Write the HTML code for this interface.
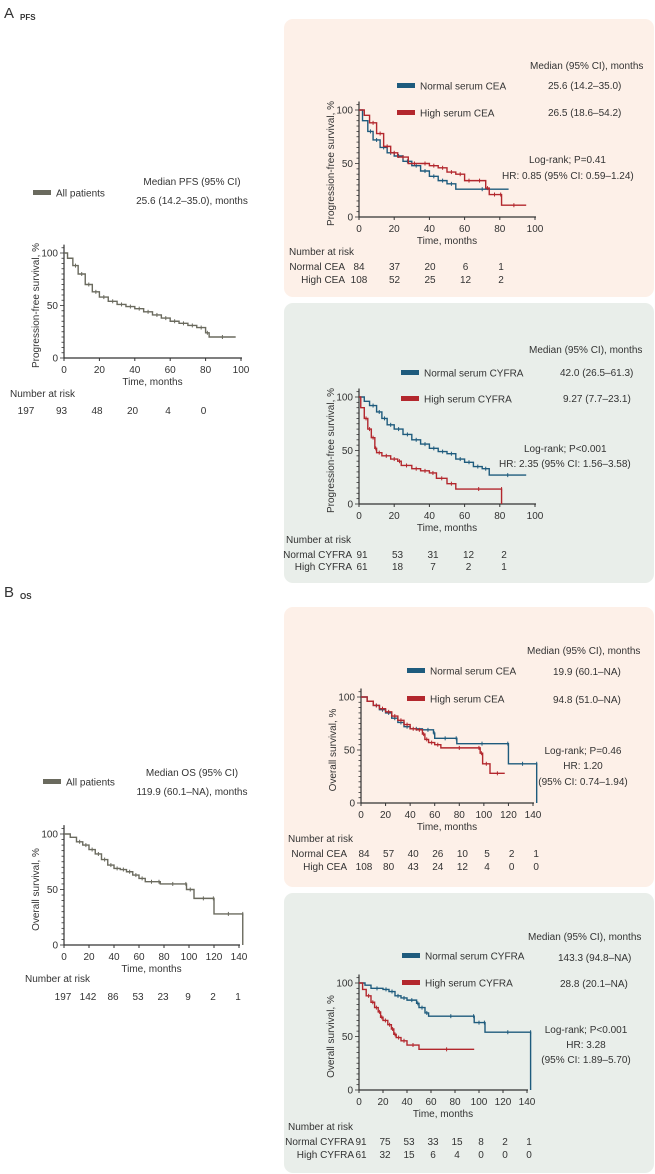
<!DOCTYPE html>
<html><head><meta charset="utf-8">
<style>
html,body{margin:0;padding:0;background:#fff;}
svg{display:block;font-family:"Liberation Sans",Arial,sans-serif;}
text{fill:#333;}
</style></head>
<body>
<svg id="root" width="655" height="1174" viewBox="0 0 655 1174" xmlns="http://www.w3.org/2000/svg">
<rect x="284" y="19" width="370" height="278" rx="9" fill="#fdf0e8"/>
<rect x="284" y="303" width="370" height="280" rx="9" fill="#e9eeea"/>
<rect x="284" y="607" width="370" height="280" rx="9" fill="#fdf0e8"/>
<rect x="284" y="893" width="370" height="280" rx="9" fill="#e9eeea"/>
<g><text x="4" y="18" font-size="15" fill="#222">A</text><text x="20" y="20" font-size="8" font-weight="bold" fill="#222">PFS</text></g>
<g><text x="4" y="597" font-size="15" fill="#222">B</text><text x="20" y="599" font-size="8" font-weight="bold" fill="#222">OS</text></g>
<g id="charts"></g>
</svg>
<script>
// ---- data ----
const pfsAllT=[0,2,5,8,12,16,20,25,30,35,40,45,50,55,60,65,70,75,80,82,97];
const pfsAllS=[100,95,88,80,70,63,58,54,51,49,47,44,41,38,35,33,31,29,24,20,20];
const pfsCeaNT=[0,2,5,8,12,16,20,25,30,35,40,45,50,55,85];
const pfsCeaNS=[100,90,80,72,65,60,57,52,48,43,38,34,31,26,26];
const pfsCeaHT=[0,3,6,10,14,18,22,28,35,40,45,50,55,60,65,72,74,80,81,95];
const pfsCeaHS=[100,95,88,78,66,60,56,50,50,48,46,42,40,34,34,27,21,21,11,11];
const pfsCyN_T=[0,3,6,10,13,16,20,25,30,35,40,45,50,55,60,65,70,74,95];
const pfsCyN_S=[100,96,92,86,80,74,70,65,60,56,52,49,47,42,39,35,33,27,27];
const pfsCyH_T=[0,1,3,5,7,9,10,13,18,22,24,30,35,40,44,50,55,81,81];
const pfsCyH_S=[100,90,80,70,62,52,48,45,42,40,36,33,31,29,24,19,14,14,0];
const osAllT=[0,5,10,15,20,25,30,35,40,45,50,55,60,65,75,77,97,98,104,119,120,143,143];
const osAllS=[100,97,93,90,86,82,77,72,69,68,66,63,60,57,57,55,55,50,42,42,28,28,0];
const osCeaNT=[0,5,10,15,20,25,30,35,40,50,59,60,77,78,119,120,143,143];
const osCeaNS=[100,96,92,88,85,80,76,72,70,69,66,61,61,56,56,37,37,0];
const osCeaHT=[0,5,10,15,20,25,30,35,40,45,50,52,55,60,65,95,97,99,105,117];
const osCeaHS=[100,96,92,89,86,82,78,74,70,69,65,60,57,55,52,52,47,37,28,28];
const osCyN_T=[0,5,10,20,25,30,35,40,48,50,55,58,95,96,104,105,143,143];
const osCyN_S=[100,98,95,94,92,88,86,84,81,77,72,69,69,63,63,54,54,0];
const osCyH_T=[0,3,6,10,13,16,18,20,24,27,29,31,35,40,50,96];
const osCyH_S=[100,94,88,82,77,73,68,65,61,57,52,49,46,42,38,38];
const pfsTicks=[0,20,40,60,80,100];
const osTicks=[0,20,40,60,80,100,120,140];
const yTicks=[0,50,100];

const NS="http://www.w3.org/2000/svg";
const FS=10;
const root=document.getElementById('charts');
function el(tag,attrs,parent){const e=document.createElementNS(NS,tag);for(const k in attrs)e.setAttribute(k,attrs[k]);(parent||root).appendChild(e);return e;}
function txt(x,y,s,size,anchor,parent){const t=el('text',{x:x,y:y,'font-size':size||FS,'text-anchor':anchor||'start'},parent);t.textContent=s;return t;}

function chart(cfg){
  const g=el('g',{});
  
  
  const sx=v=>cfg.x0+(v/cfg.xmax)*(cfg.x1-cfg.x0);
  const sy=v=>cfg.y0+(v/100)*(cfg.y100-cfg.y0);
  const ax=el('path',{d:`M${cfg.x0} ${sy(108)}V${cfg.y0}H${sx(cfg.xmax)+1}`,stroke:'#333','stroke-width':1.2,fill:'none'},g);
  
  
  for(let v=0;v<=105;v+=5){el('line',{x1:cfg.x0-(v%50===0?4:2.5),x2:cfg.x0,y1:sy(v),y2:sy(v),stroke:'#333','stroke-width':0.8},g);}
  yTicks.forEach(v=>{const t=txt(cfg.x0-6,sy(v)+3.5,String(v),FS,'end',g);});
  cfg.ticks.forEach(v=>{el('line',{x1:sx(v),x2:sx(v),y1:cfg.y0,y2:cfg.y0+3,stroke:'#333'},g);const t=txt(sx(v),cfg.y0+15,String(v),FS,'middle',g);});
  const xt=txt((cfg.x0+sx(cfg.xmax))/2,cfg.y0+27,'Time, months',FS,'middle',g);
  
  const yt=txt(0,0,cfg.ytitle,FS,'middle',g);
  yt.setAttribute('transform',`translate(${cfg.x0-25},${(cfg.y0+cfg.y100)/2}) rotate(-90)`);
  
  cfg.series.forEach(s=>{
    let d=`M${sx(s.t[0])} ${sy(s.s[0])}`;
    for(let i=1;i<s.t.length;i++){d+=`H${sx(s.t[i])}V${sy(s.s[i])}`;}
    const p=el('path',{d:d,stroke:s.c,'stroke-width':1.4,fill:'none'},g);
    
    
    for(let i=2;i<s.t.length-1;i+=1){const x=(sx(s.t[i])+sx(s.t[i+1]))/2,y=sy(s.s[i]);el('line',{x1:x,x2:x,y1:y-2,y2:y+2,stroke:s.c,'stroke-width':1},g);}
  });
  return g;
}
const BL='#1e5b7d',RD='#b3272d',GR='#6a6a5e';
chart({name:'pfs-all-chart',x0:64,x1:241,y0:358,y100:253,xmax:100,ticks:pfsTicks,ytitle:'Progression-free survival, %',series:[{t:pfsAllT,s:pfsAllS,c:GR,name:'curve-all-patients'}]});
chart({name:'pfs-cea-chart',x0:359,x1:535,y0:217,y100:110,xmax:100,ticks:pfsTicks,ytitle:'Progression-free survival, %',series:[{t:pfsCeaNT,s:pfsCeaNS,c:BL,name:'curve-normal-cea'},{t:pfsCeaHT,s:pfsCeaHS,c:RD,name:'curve-high-cea'}]});
chart({name:'pfs-cyfra-chart',x0:359,x1:535,y0:504,y100:397,xmax:100,ticks:pfsTicks,ytitle:'Progression-free survival, %',series:[{t:pfsCyN_T,s:pfsCyN_S,c:BL,name:'curve-normal-cyfra'},{t:pfsCyH_T,s:pfsCyH_S,c:RD,name:'curve-high-cyfra'}]});
chart({name:'os-all-chart',x0:64,x1:239,y0:945,y100:834,xmax:140,ticks:osTicks,ytitle:'Overall survival, %',series:[{t:osAllT,s:osAllS,c:GR,name:'curve-all-patients-os'}]});
chart({name:'os-cea-chart',x0:361,x1:533,y0:803,y100:697,xmax:140,ticks:osTicks,ytitle:'Overall survival, %',series:[{t:osCeaNT,s:osCeaNS,c:BL,name:'curve-normal-cea-os'},{t:osCeaHT,s:osCeaHS,c:RD,name:'curve-high-cea-os'}]});
chart({name:'os-cyfra-chart',x0:359,x1:527,y0:1090,y100:983,xmax:140,ticks:osTicks,ytitle:'Overall survival, %',series:[{t:osCyN_T,s:osCyN_S,c:BL,name:'curve-normal-cyfra-os'},{t:osCyH_T,s:osCyH_S,c:RD,name:'curve-high-cyfra-os'}]});

function legend(x,y,c,label,name){const g=el('g',{});el('rect',{x:x,y:y-3,width:18,height:5,fill:c},g);txt(x+23,y+3.5,label,FS,'start',g);}
function texts(arr){arr.forEach(a=>{const t=txt(a[0],a[1],a[2],FS,a[3]||'start');});}

// Left PFS
legend(33,193,GR,'All patients','legend-all-patients');
texts([[192,185,'Median PFS (95% CI)','middle','median-title'],[192,204,'25.6 (14.2–35.0), months','middle','median-value'],
[10,397,'Number at risk','start','risk-title']]);
[197,93,48,20,4,0].forEach((v,i)=>texts([[26+i*35.5,414,String(v),'middle','risk-value']]));
// Panel 1
texts([[530,69,'Median (95% CI), months'],[548,89,'25.6 (14.2–35.0)'],[548,116,'26.5 (18.6–54.2)'],[529,163,'Log-rank; P=0.41'],[502,179,'HR: 0.85 (95% CI: 0.59–1.24)'],
[289,255,'Number at risk'],[345,270,'Normal CEA','end'],[345,283,'High CEA','end']]);
legend(397,86,BL,'Normal serum CEA','legend-normal-cea');legend(397,113,RD,'High serum CEA','legend-high-cea');
[[84,108],[37,52],[20,25],[6,12],[1,2]].forEach((v,i)=>texts([[359+i*35.5,270,String(v[0]),'middle','risk-value'],[359+i*35.5,283,String(v[1]),'middle','risk-value']]));
// Panel 2
texts([[529,353,'Median (95% CI), months'],[560,376,'42.0 (26.5–61.3)'],[563,402,'9.27 (7.7–23.1)'],[524,452,'Log-rank; P<0.001'],[499,467,'HR: 2.35 (95% CI: 1.56–3.58)'],
[286,543,'Number at risk'],[352,558,'Normal CYFRA','end'],[352,570,'High CYFRA','end']]);
legend(401,373,BL,'Normal serum CYFRA','legend-normal-cyfra');legend(401,399,RD,'High serum CYFRA','legend-high-cyfra');
[[91,61],[53,18],[31,7],[12,2],[2,1]].forEach((v,i)=>texts([[362+i*35.5,558,String(v[0]),'middle','risk-value'],[362+i*35.5,570,String(v[1]),'middle','risk-value']]));
// Left OS
legend(43,782,GR,'All patients','legend-all-patients-os');
texts([[192,776,'Median OS (95% CI)','middle','median-title'],[192,795,'119.9 (60.1–NA), months','middle','median-value'],[25,982,'Number at risk','start','risk-title']]);
[197,142,86,53,23,9,2,1].forEach((v,i)=>texts([[63+i*25,1000,String(v),'middle','risk-value']]));
// Panel 3
texts([[527,654,'Median (95% CI), months'],[553,675,'19.9 (60.1–NA)'],[553,703,'94.8 (51.0–NA)'],[583,754,'Log-rank; P=0.46','middle'],[583,769,'HR: 1.20','middle'],[583,785,'(95% CI: 0.74–1.94)','middle'],
[288,842,'Number at risk'],[347,857,'Normal CEA','end'],[347,870,'High CEA','end']]);
legend(407,671,BL,'Normal serum CEA','legend-normal-cea-os');legend(407,699,RD,'High serum CEA','legend-high-cea-os');
[[84,108],[57,80],[40,43],[26,24],[10,12],[5,4],[2,0],[1,0]].forEach((v,i)=>texts([[364+i*24.6,857,String(v[0]),'middle','risk-value'],[364+i*24.6,870,String(v[1]),'middle','risk-value']]));
// Panel 4
texts([[528,940,'Median (95% CI), months'],[558,961,'143.3 (94.8–NA)'],[560,987,'28.8 (20.1–NA)'],[586,1033,'Log-rank; P<0.001','middle'],[586,1048,'HR: 3.28','middle'],[586,1063,'(95% CI: 1.89–5.70)','middle'],
[288,1130,'Number at risk'],[354,1145,'Normal CYFRA','end'],[354,1158,'High CYFRA','end']]);
legend(402,956,BL,'Normal serum CYFRA','legend-normal-cyfra-os');legend(402,983,RD,'High serum CYFRA','legend-high-cyfra-os');
[[91,61],[75,32],[53,15],[33,6],[15,4],[8,0],[2,0],[1,0]].forEach((v,i)=>texts([[361+i*24,1145,String(v[0]),'middle','risk-value'],[361+i*24,1158,String(v[1]),'middle','risk-value']]));
</script>
</body></html>
